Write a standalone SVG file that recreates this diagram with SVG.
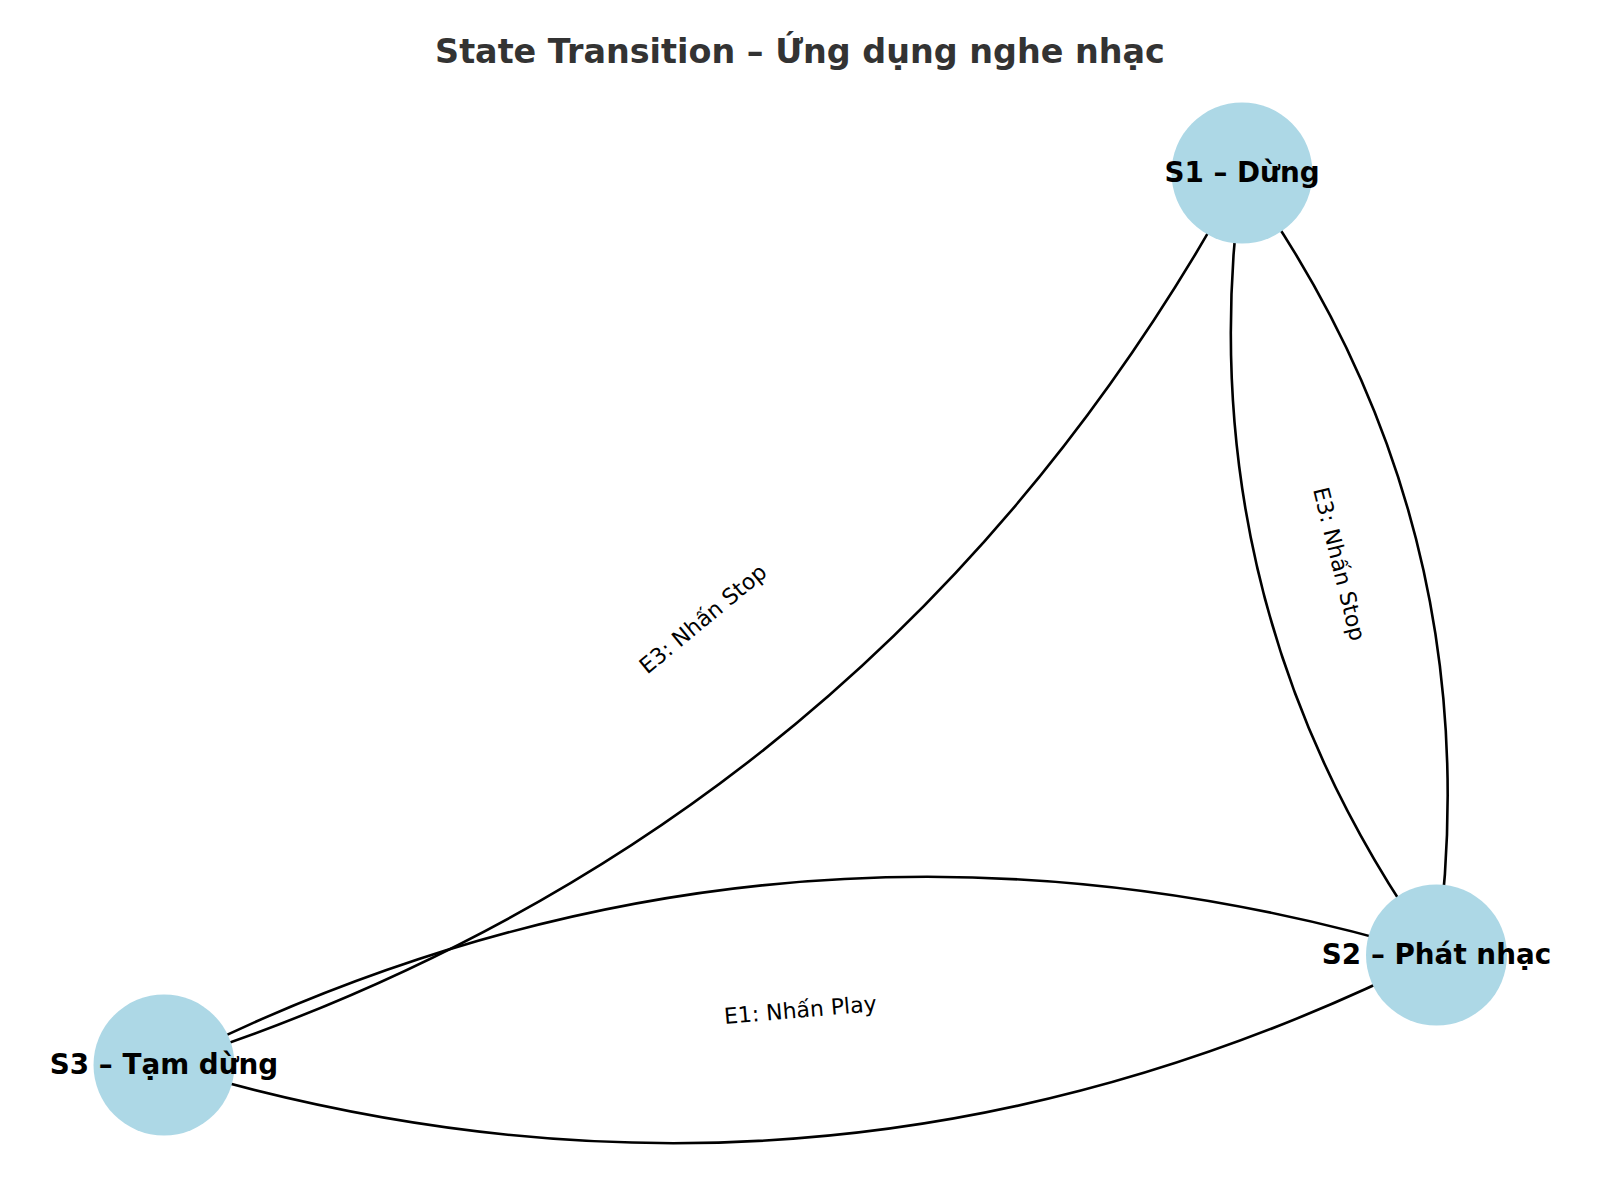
<svg xmlns="http://www.w3.org/2000/svg" width="1600" height="1200" viewBox="0 0 1600 1200">
<style>
.edge{fill:none;stroke:#000;stroke-width:2.6}
.node circle{fill:#ADD8E6}
.node text{font-family:"DejaVu Sans",sans-serif;font-weight:bold;font-size:27.8px;fill:#000;text-anchor:middle}
.elabel{font-family:"DejaVu Sans",sans-serif;font-size:22px;fill:#000;text-anchor:middle;dominant-baseline:central}
.title{font-family:"DejaVu Sans",sans-serif;font-weight:bold;font-size:33.4px;fill:#333;text-anchor:middle}
</style>
<rect width="1600" height="1200" fill="#fff"/>
<text class="title" x="800" y="63">State Transition – Ứng dụng nghe nhạc</text>
<g id="edges">
<path class="edge" d="M1242,173 Q1182.85,602.9 1436.5,955"/>
<path class="edge" d="M1436.5,955 Q1495.65,525.1 1242,173"/>
<path class="edge" d="M1436.5,955 Q778.25,755.5 164,1065"/>
<path class="edge" d="M164,1065 Q822.25,1264.5 1436.5,955"/>
<path class="edge" d="M164,1065 Q881.4,834.6 1242,173"/>
</g>
<g id="edge-labels">
<text class="elabel" transform="translate(703,619) rotate(-39.6)">E3: Nhấn Stop</text>
<text class="elabel" transform="translate(1339.25,564) rotate(76)">E3: Nhấn Stop</text>
<text class="elabel" transform="translate(800.25,1010) rotate(-4.94)">E1: Nhấn Play</text>
</g>
<g id="S1" class="node"><circle cx="1242" cy="173" r="70.5"/><text x="1242" y="182">S1 – Dừng</text></g>
<g id="S2" class="node"><circle cx="1436.5" cy="955" r="70.5"/><text x="1436.5" y="964">S2 – Phát nhạc</text></g>
<g id="S3" class="node"><circle cx="164" cy="1065" r="70.5"/><text x="164" y="1074">S3 – Tạm dừng</text></g>
</svg>
